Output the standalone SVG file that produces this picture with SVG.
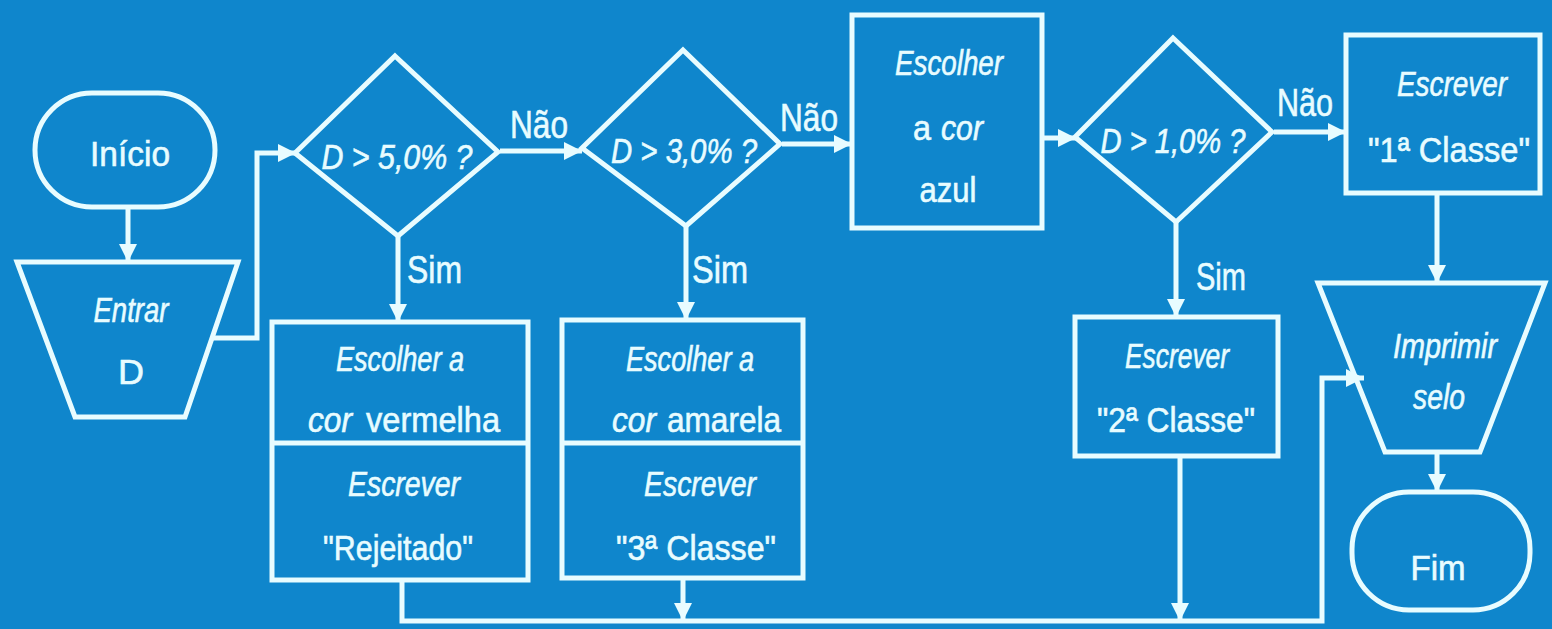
<svg xmlns="http://www.w3.org/2000/svg" width="1552" height="629" viewBox="0 0 1552 629">
<style>
.sh{fill:none;stroke:#e8fcff;stroke-width:5;stroke-linejoin:miter}
.ln{fill:none;stroke:#e8fcff;stroke-width:5}
text{font-family:"Liberation Sans",Arial,sans-serif;fill:#e8fcff;font-size:35px;text-anchor:middle;stroke:#e8fcff;stroke-width:0.6}
.i{font-style:italic}
.s{text-anchor:start}
.lb{font-size:38px;text-anchor:start}
</style>
<defs>
<marker id="ah" markerUnits="userSpaceOnUse" markerWidth="22" markerHeight="22" viewBox="0 0 22 22" refX="20" refY="11" orient="auto">
<path d="M2,2 L20,11 L2,20 z" fill="#e8fcff"/>
</marker>
</defs>
<rect width="1552" height="629" fill="#0f86cc"/>

<g id="connectors">
<line class="ln" x1="128" y1="207" x2="128" y2="262" marker-end="url(#ah)"/>
<polyline class="ln" points="213,338 257,338 257,153 296,153" marker-end="url(#ah)"/>
<line class="ln" x1="500" y1="151" x2="582" y2="151" marker-end="url(#ah)"/>
<line class="ln" x1="782" y1="144" x2="852" y2="144" marker-end="url(#ah)"/>
<line class="ln" x1="1042" y1="138" x2="1076" y2="138" marker-end="url(#ah)"/>
<line class="ln" x1="1274" y1="132" x2="1346" y2="132" marker-end="url(#ah)"/>
<line class="ln" x1="398" y1="236" x2="398" y2="322" marker-end="url(#ah)"/>
<line class="ln" x1="686" y1="226" x2="686" y2="320" marker-end="url(#ah)"/>
<line class="ln" x1="1176" y1="222" x2="1176" y2="317" marker-end="url(#ah)"/>
<polyline class="ln" points="402,580 402,621 1322,621 1322,378 1364,378" marker-end="url(#ah)"/>
<line class="ln" x1="683" y1="578" x2="683" y2="621" marker-end="url(#ah)"/>
<line class="ln" x1="1180" y1="456" x2="1180" y2="621" marker-end="url(#ah)"/>
<line class="ln" x1="1437" y1="193" x2="1437" y2="283" marker-end="url(#ah)"/>
<line class="ln" x1="1437" y1="452" x2="1437" y2="492" marker-end="url(#ah)"/>
<text class="lb" x="510" y="138" textLength="58" lengthAdjust="spacingAndGlyphs">Não</text>
<text class="lb" x="780" y="131" textLength="58" lengthAdjust="spacingAndGlyphs">Não</text>
<text class="lb" x="1277" y="116" textLength="56" lengthAdjust="spacingAndGlyphs">Não</text>
<text class="lb" x="407" y="283" textLength="55" lengthAdjust="spacingAndGlyphs">Sim</text>
<text class="lb" x="692" y="283" textLength="56" lengthAdjust="spacingAndGlyphs">Sim</text>
<text class="lb" x="1196" y="290" textLength="50" lengthAdjust="spacingAndGlyphs">Sim</text>
</g>

<g id="inicio">
<rect class="sh" x="35" y="93" width="180" height="114" rx="57"/>
<text x="130" y="166" font-size="37" textLength="80" lengthAdjust="spacingAndGlyphs">Início</text>
</g>

<g id="entrar">
<polygon class="sh" points="17,262 238,262 185,417 75,417"/>
<text class="i" x="131" y="322" textLength="75" lengthAdjust="spacingAndGlyphs">Entrar</text>
<text x="131" y="384" font-size="40" textLength="26" lengthAdjust="spacingAndGlyphs">D</text>
</g>

<g id="d5">
<polygon class="sh" points="395,56 498,152 398,236 295,153"/>
<text class="i" x="397" y="169" font-size="40" textLength="151" lengthAdjust="spacingAndGlyphs">D &gt; 5,0% ?</text>
</g>

<g id="d3">
<polygon class="sh" points="683,50 780,144 686,226 582,148"/>
<text class="i" x="684" y="163" font-size="40" textLength="146" lengthAdjust="spacingAndGlyphs">D &gt; 3,0% ?</text>
</g>

<g id="azul">
<rect class="sh" x="852" y="15" width="190" height="213"/>
<text class="i" x="949" y="75" textLength="108" lengthAdjust="spacingAndGlyphs">Escolher</text>
<text class="s" x="913" y="140" textLength="18" lengthAdjust="spacingAndGlyphs">a</text>
<text class="i s" x="941" y="140" textLength="42" lengthAdjust="spacingAndGlyphs">cor</text>
<text x="948" y="202" textLength="57" lengthAdjust="spacingAndGlyphs">azul</text>
</g>

<g id="d1">
<polygon class="sh" points="1173,38 1272,132 1176,222 1075,137"/>
<text class="i" x="1173" y="153" font-size="40" textLength="145" lengthAdjust="spacingAndGlyphs">D &gt; 1,0% ?</text>
</g>

<g id="classe1">
<rect class="sh" x="1346" y="35" width="194" height="158"/>
<text class="i" x="1452" y="96" textLength="110" lengthAdjust="spacingAndGlyphs">Escrever</text>
<text x="1449" y="162" font-size="38" textLength="162" lengthAdjust="spacingAndGlyphs">"1ª Classe"</text>
</g>

<g id="rejeitado">
<rect class="sh" x="272" y="322" width="256" height="258"/>
<line class="sh" x1="272" y1="443" x2="528" y2="443"/>
<text class="i" x="400" y="371" textLength="128" lengthAdjust="spacingAndGlyphs">Escolher a</text>
<text class="i s" x="308" y="432" font-size="38" textLength="44" lengthAdjust="spacingAndGlyphs">cor</text>
<text class="s" x="366" y="432" font-size="38" textLength="134" lengthAdjust="spacingAndGlyphs">vermelha</text>
<text class="i" x="404" y="496" textLength="112" lengthAdjust="spacingAndGlyphs">Escrever</text>
<text x="398" y="560" font-size="38" textLength="150" lengthAdjust="spacingAndGlyphs">"Rejeitado"</text>
</g>

<g id="classe3">
<rect class="sh" x="562" y="320" width="241" height="258"/>
<line class="sh" x1="562" y1="443" x2="803" y2="443"/>
<text class="i" x="690" y="371" textLength="128" lengthAdjust="spacingAndGlyphs">Escolher a</text>
<text class="i s" x="612" y="432" font-size="38" textLength="44" lengthAdjust="spacingAndGlyphs">cor</text>
<text class="s" x="667" y="432" font-size="38" textLength="114" lengthAdjust="spacingAndGlyphs">amarela</text>
<text class="i" x="700" y="496" textLength="112" lengthAdjust="spacingAndGlyphs">Escrever</text>
<text x="696" y="560" font-size="38" textLength="160" lengthAdjust="spacingAndGlyphs">"3ª Classe"</text>
</g>

<g id="classe2">
<rect class="sh" x="1075" y="317" width="203" height="139"/>
<text class="i" x="1177" y="368" textLength="104" lengthAdjust="spacingAndGlyphs">Escrever</text>
<text x="1176" y="432" font-size="38" textLength="158" lengthAdjust="spacingAndGlyphs">"2ª Classe"</text>
</g>

<g id="imprimir">
<polygon class="sh" points="1318,283 1545,283 1480,452 1385,452"/>
<text class="i" x="1445" y="358" textLength="104" lengthAdjust="spacingAndGlyphs">Imprimir</text>
<text class="i" x="1439" y="409" textLength="52" lengthAdjust="spacingAndGlyphs">selo</text>
</g>

<g id="fim">
<rect class="sh" x="1352" y="492" width="178" height="118" rx="57"/>
<text x="1438" y="580" font-size="38" textLength="55" lengthAdjust="spacingAndGlyphs">Fim</text>
</g>
</svg>
